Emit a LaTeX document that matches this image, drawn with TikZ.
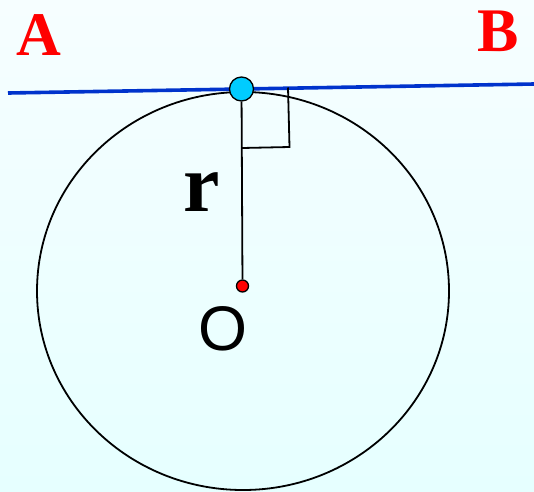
\documentclass[tikz,border=0pt]{standalone}
\usepackage{fontspec}
\setmainfont{Liberation Serif}
\newfontfamily\sansf{Liberation Sans}
\definecolor{linblue}{HTML}{0033CC}
\definecolor{dotcyan}{HTML}{00CCFF}
\definecolor{bgtop}{HTML}{F6FEFF}
\definecolor{bgbot}{HTML}{E6FFFF}
\begin{document}
\begin{tikzpicture}[x=1pt,y=-1pt,
  letter/.style={text=red,font=\fontsize{62}{62}\selectfont\bfseries,inner sep=0pt,anchor=base},
  thin line/.style={line width=1.8pt,black},
  dot/.style={circle,draw=black,line width=1.3pt,inner sep=0pt}]
\fill[top color=bgtop,bottom color=bgbot] (0,0) rectangle (534,491);
\useasboundingbox (0,0) rectangle (534,491);
% circle
\draw[thin line] (243,291) ellipse [x radius=206, y radius=199];
% tangent line
\coordinate (L) at (8,93);
\coordinate (R) at (534,84);
\draw[linblue,line width=3.6pt] (L) -- (R);
% right angle mark
\coordinate (m1) at (242,148);
\coordinate (m2) at (289.5,147);
\coordinate (m3) at (288,87.5);
\draw[thin line] (m1) -- (m2) -- (m3);
% nodes
\node[dot,fill=red,minimum size=12pt] (Od) at (242.5,286) {};
\node[dot,fill=dotcyan,minimum size=24pt] (T) at (241.5,89) {};
\draw[thin line] (T) -- (Od);
\node[letter] (A) at (38.5,55) {A};
\node[letter] (B) at (498.5,51) {B};
\node[inner sep=0pt,anchor=base,font=\fontsize{82}{82}\selectfont\bfseries] (r) at (201.5,211) {r};
\node[inner sep=0pt,anchor=base,font=\sansf\fontsize{63}{63}\selectfont] (O) at (223,350) {O};
\end{tikzpicture}
\end{document}
